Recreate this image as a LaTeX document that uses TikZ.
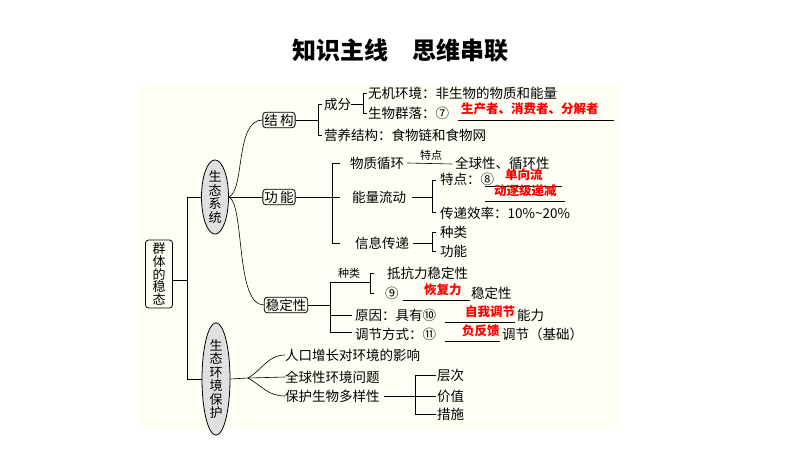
\documentclass[tikz,border=0pt]{standalone}
\usepackage{fontspec}
\setmainfont{Noto Sans CJK SC}
\usetikzlibrary{shapes.geometric}
\begin{document}
\begin{tikzpicture}[x=1pt,y=-1pt,
  t/.style={anchor=west,inner sep=0pt,font=\fontsize{13.5}{15}\selectfont},
  r/.style={t,text=red,font=\fontsize{12.5}{14}\selectfont\bfseries},
  sm/.style={t,font=\fontsize{11}{13}\selectfont},
  bx/.style={draw,rounded corners=3pt,thick,inner sep=1.5pt,font=\fontsize{13.5}{15}\selectfont},
  el/.style={draw,ellipse,thick,fill=black!12,inner sep=0pt,align=center,font=\fontsize{13}{13.5}\selectfont},
  ln/.style={line width=0.6pt}]
\useasboundingbox (0,0) rectangle (800,450);
\fill[white] (0,0) rectangle (800,450);
\fill[yellow!4] (140,85) rectangle (620,430);
\node (title) at (400,50) {\fontsize{24}{27}\selectfont\bfseries 知识主线\quad 思维串联};
% root
\node[bx,align=center,minimum width=27pt,minimum height=68pt,font=\fontsize{13}{12.8}\selectfont] (root) at (159,274) {群\\体\\的\\稳\\态};
\coordinate (sp) at (187,280);
\coordinate (st) at (187,197);
\coordinate (sb) at (187,379);
\node[el,minimum width=27pt,minimum height=63pt] (e1) at (215,197) {生\\态\\系\\统};
\node[el,minimum width=28pt,minimum height=88pt] (e2) at (216,379) {生\\态\\环\\境\\保\\护};
\draw[ln] (root.east|-sp) -- (sp) (st) -- (sb) (st) -- (e1.west) (sb) -- (e2.west);
% level 2
\node[bx] (jg) at (279,120) {结\,构};
\node[bx] (gn) at (279,197) {功\,能};
\node[bx] (wd) at (286,305) {稳定性};
\draw[ln] (e1.east) .. controls (245,190) and (235,120) .. (jg.west);
\draw[ln] (e1.east) -- (gn.west);
\draw[ln] (e1.east) .. controls (245,205) and (235,305) .. (wd.west);
% 结构
\coordinate (b1) at (318,120);
\draw[ln] (jg.east) -- (b1);
\draw[ln] (322,104) -- (318,104) -- (318,135) -- (322,135);
\node[t] (cf) at (324,104) {成分};
\node[t] (yy) at (324,135) {营养结构：食物链和食物网};
\draw[ln] (cf.east) -- (363,104);
\draw[ln] (367,93) -- (363,93) -- (363,113) -- (367,113);
\node[t] (wj) at (368,93) {无机环境：非生物的物质和能量};
\node[t] (sw) at (368,113) {生物群落：⑦};
\node[r] (sc) at (461,109) {生产者、消费者、分解者};
\draw[ln] (458,120.5) -- (614,120.5);
% 功能
\draw[ln] (gn.east) -- (332,197);
\draw[ln] (340,163) -- (332,163) -- (332,243) -- (340,243) (332,197) -- (340,197);
\node[t] (wz) at (350,163) {物质循环};
\draw[ln] (wz.east) ++(3,0) -- (452,164);
\node[sm] (td1) at (420,155) {特点};
\node[t] (qq) at (455,163) {全球性、循环性};
\node[t] (nl) at (352,197) {能量流动};
\draw[ln] (nl.east) ++(6,0) -- (432,197);
\draw[ln] (436,180) -- (432,180) -- (432,212) -- (436,212);
\node[t] (td2) at (440,179) {特点：⑧};
\node[r] (dx) at (505,175) {单向流};
\draw[ln] (485,186.5) -- (562,186.5);
\node[r] (zj) at (494,191) {动逐级递减};
\draw[ln] (485,201.5) -- (565,201.5);
\node[t] (cd) at (440,213) {传递效率：10\%\textasciitilde20\%};
\node[t] (xx) at (355,243) {信息传递};
\draw[ln] (xx.east) ++(4,0) -- (432,243);
\draw[ln] (436,232) -- (432,232) -- (432,251) -- (436,251);
\node[t] (zl) at (440,232) {种类};
\node[t] (gn2) at (440,251) {功能};
% 稳定性
\draw[ln] (wd.east) -- (330,305);
\draw[ln] (370,282) -- (330,282) -- (330,332) -- (352,332) (330,315) -- (352,315);
\node[sm] (zl2) at (338,273) {种类};
\draw[ln] (374,273) -- (370,273) -- (370,293) -- (374,293);
\node[t] (dk) at (387,273) {抵抗力稳定性};
\node[t] (n9) at (385,293) {⑨};
\node[r] (hf) at (424,290) {恢复力};
\draw[ln] (403,300.5) -- (470,300.5);
\node[t] (wd2) at (471,293) {稳定性};
\node[t] (yy2) at (355,315) {原因：具有⑩};
\node[r] (zw) at (465,312) {自我调节};
\draw[ln] (445,322.5) -- (515,322.5);
\node[t] (nl2) at (517,315) {能力};
\node[t] (tj) at (355,334) {调节方式：⑪};
\node[r] (ff) at (462,331) {负反馈};
\draw[ln] (445,341.5) -- (500,341.5);
\node[t] (tj2) at (502,334) {调节（基础）};
% 保护
\coordinate (bp) at (248,378);
\draw[ln] (e2.east) -- (bp);
\node[t] (rk) at (285,355) {人口增长对环境的影响};
\node[t] (qq2) at (285,377) {全球性环境问题};
\node[t] (bh) at (285,396) {保护生物多样性};
\draw[ln] (bp) .. controls (262,370) and (268,355) .. (rk.west);
\draw[ln] (bp) -- (qq2.west);
\draw[ln] (bp) .. controls (262,386) and (268,396) .. (bh.west);
\draw[ln] (bh.east) ++(4,0) -- (436,396);
\draw[ln] (436,375) -- (415,375) -- (415,414) -- (436,414);
\node[t] (cc) at (437,375) {层次};
\node[t] (jz) at (437,396) {价值};
\node[t] (cs) at (437,414) {措施};
\end{tikzpicture}
\end{document}
